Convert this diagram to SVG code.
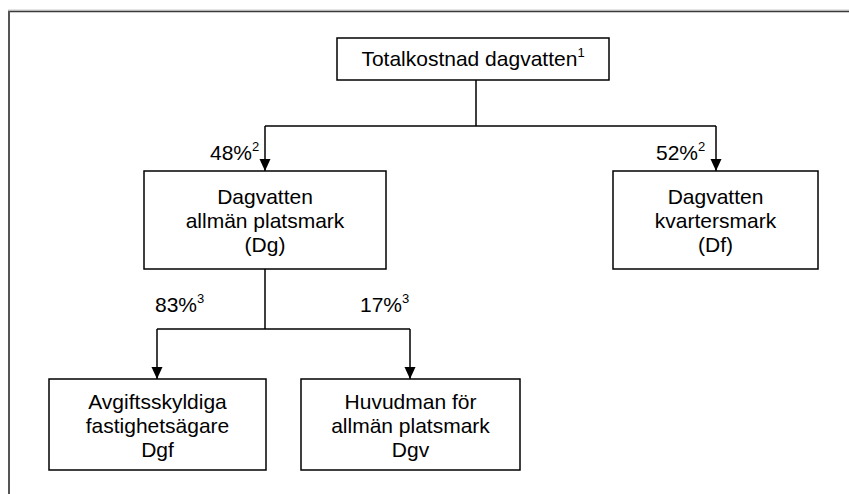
<svg xmlns="http://www.w3.org/2000/svg" width="849" height="494" viewBox="0 0 849 494">
<style>
.box{fill:#fff;stroke:#000;stroke-width:1.5}
.t{font-family:"Liberation Sans",Arial,Helvetica,sans-serif;font-size:21px;fill:#000}
.c{text-anchor:middle}
.sup{font-size:13px}
.ln{fill:none;stroke:#000;stroke-width:1.5}
</style>
<defs>
<marker id="ah" markerUnits="userSpaceOnUse" markerWidth="12" markerHeight="12" refX="12" refY="5.5" orient="auto">
<path d="M0,0 L12,5.5 L0,11 z" fill="#000"/>
</marker>
</defs>
<rect width="849" height="494" fill="#fff"/>
<g id="frame">
<line x1="8" y1="10" x2="849" y2="10" stroke="#c8c8c8" stroke-width="1"/>
<line x1="8" y1="11.5" x2="849" y2="11.5" stroke="#3a3a3a" stroke-width="1.5"/>
<line x1="9" y1="11" x2="9" y2="494" stroke="#555" stroke-width="2"/>
</g>
<g id="connectors">
<path class="ln" d="M476,80 V126"/>
<path class="ln" d="M265,126 H716"/>
<path class="ln" d="M265,126 V171" marker-end="url(#ah)"/>
<path class="ln" d="M716,126 V171" marker-end="url(#ah)"/>
<path class="ln" d="M265,269 V329"/>
<path class="ln" d="M157,329 H410"/>
<path class="ln" d="M157,329 V379" marker-end="url(#ah)"/>
<path class="ln" d="M410,329 V379" marker-end="url(#ah)"/>
<text class="t" x="210" y="160">48%<tspan class="sup" dy="-9">2</tspan></text>
<text class="t" x="656" y="160">52%<tspan class="sup" dy="-9">2</tspan></text>
<text class="t" x="155" y="312">83%<tspan class="sup" dy="-9">3</tspan></text>
<text class="t" x="360" y="312">17%<tspan class="sup" dy="-9">3</tspan></text>
</g>
<g id="total">
<rect class="box" x="337" y="38" width="272" height="42"/>
<text class="t c" x="473" y="66">Totalkostnad dagvatten<tspan class="sup" dy="-9">1</tspan></text>
</g>
<g id="dg">
<rect class="box" x="144" y="171" width="242" height="98"/>
<text class="t c" x="265" y="204">Dagvatten</text>
<text class="t c" x="265" y="228">allmän platsmark</text>
<text class="t c" x="265" y="252">(Dg)</text>
</g>
<g id="df">
<rect class="box" x="613" y="171" width="205" height="98"/>
<text class="t c" x="715.5" y="204">Dagvatten</text>
<text class="t c" x="715.5" y="228">kvartersmark</text>
<text class="t c" x="715.5" y="252">(Df)</text>
</g>
<g id="dgf">
<rect class="box" x="49" y="379" width="217" height="91"/>
<text class="t c" x="157.5" y="409">Avgiftsskyldiga</text>
<text class="t c" x="157.5" y="433">fastighetsägare</text>
<text class="t c" x="157.5" y="457">Dgf</text>
</g>
<g id="dgv">
<rect class="box" x="301" y="379" width="219" height="91"/>
<text class="t c" x="410.5" y="409">Huvudman för</text>
<text class="t c" x="410.5" y="433">allmän platsmark</text>
<text class="t c" x="410.5" y="457">Dgv</text>
</g>
</svg>
